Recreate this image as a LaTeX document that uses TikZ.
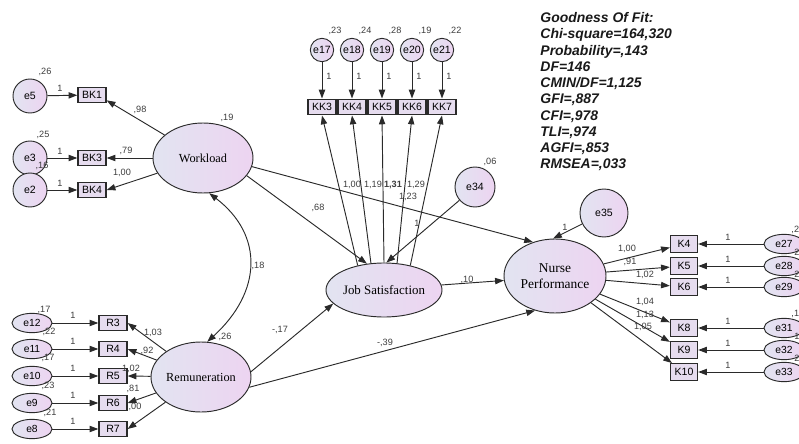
\documentclass[tikz,border=0pt]{standalone}
\usepackage{fontspec}
\setmainfont{Liberation Serif}
\setsansfont{Liberation Sans}
\usetikzlibrary{arrows.meta,shapes.geometric}
\definecolor{ink}{HTML}{2A2A2A}
\definecolor{numink}{HTML}{3C3C3C}
\definecolor{boxfill}{HTML}{E6DCEF}
\definecolor{latleft}{HTML}{E2E4F1}
\definecolor{latright}{HTML}{EDD4F1}

\begin{document}
\begin{tikzpicture}[x=0.03cm,y=-0.03cm,>={Triangle[length=7.5pt,width=5.4pt]},line width=0.8pt,
  link/.style={draw=ink,->},
  cov/.style={draw=ink,<->},
  obs/.style={rectangle,draw=ink,line width=1.1pt,fill=boxfill,minimum width=0.84cm,minimum height=0.47cm,inner sep=0pt,font=\sffamily\fontsize{9}{9}\selectfont},
  err/.style={circle,draw=ink,left color=latleft,right color=latright,inner sep=0pt,font=\sffamily\fontsize{9}{9}\selectfont},
  errov/.style={ellipse,draw=ink,left color=latleft,right color=latright,minimum width=1.2cm,minimum height=0.58cm,inner sep=0pt,font=\sffamily\fontsize{8.8}{8.8}\selectfont},
  lat/.style={ellipse,draw=ink,left color=latleft,right color=latright,inner sep=0pt,align=center,font=\fontsize{10.5}{13.6}\selectfont},
  val/.style={font=\sffamily\fontsize{7.8}{7.8}\selectfont,text=numink,inner sep=0pt}]
\useasboundingbox (0,0) rectangle (799,444);
% workload and its items
\node[lat,minimum width=3cm,minimum height=2.1cm] (wl) at (203,158) {Workload};
\node[obs] (bk1) at (92,95) {BK1};
\node[obs] (bk3) at (92,158) {BK3};
\node[obs] (bk4) at (92,190) {BK4};
\node[err,minimum size=1.02cm] (e5) at (30,96) {e5};
\node[err,minimum size=1.02cm] (e3) at (30,158) {e3};
\node[err,minimum size=1.02cm] (e2) at (30,190) {e2};
\draw[link] (e5) -- (bk1);
\draw[link] (e3) -- (bk3);
\draw[link] (e2) -- (bk4);
\draw[link] (wl) -- (bk1.-20);
\draw[link] (wl.west) -- (bk3.east);
\draw[link] (wl) -- (bk4.east);
\node[val] (ve5) at (45,72) {,26};
\node[val] (ve3) at (43,135) {,25};
\node[val] (ve2) at (42,166) {,16};
\node[val] (o5) at (60,88) {1};
\node[val] (o3) at (60,151) {1};
\node[val] (o2) at (60,183) {1};
\node[val] (lbk1) at (140,110) {,98};
\node[val] (lbk3) at (126,151) {,79};
\node[val] (lbk4) at (122,173) {1,00};
\node[val] (vwl) at (227,118) {,19};
% job satisfaction and its items
\node[lat,minimum width=3.48cm,minimum height=1.62cm,font=\fontsize{11}{11}\selectfont] (js) at (384,290) {Job Satisfaction};
\node[obs] (kk3) at (322,107) {KK3};
\node[obs] (kk4) at (352,107) {KK4};
\node[obs] (kk5) at (382,107) {KK5};
\node[obs] (kk6) at (412,107) {KK6};
\node[obs] (kk7) at (442,107) {KK7};
\node[err,minimum size=0.7cm] (e17) at (322,50) {e17};
\node[err,minimum size=0.7cm] (e18) at (352,50) {e18};
\node[err,minimum size=0.7cm] (e19) at (382,50) {e19};
\node[err,minimum size=0.7cm] (e20) at (412,50) {e20};
\node[err,minimum size=0.7cm] (e21) at (442,50) {e21};
\draw[link] (e17) -- (kk3);
\draw[link] (e18) -- (kk4);
\draw[link] (e19) -- (kk5);
\draw[link] (e20) -- (kk6);
\draw[link] (e21) -- (kk7);
\draw[link] (js.137) -- (kk3.south);
\draw[link] (js.116) -- (kk4.south);
\draw[link] (js.90) -- (kk5.south);
\draw[link] (js.64) -- (kk6.south);
\draw[link] (js.43) -- (kk7.south);
\node[val] (ve17) at (335,31) {,23};
\node[val] (ve18) at (365,31) {,24};
\node[val] (ve19) at (395,31) {,28};
\node[val] (ve20) at (425,31) {,19};
\node[val] (ve21) at (455,31) {,22};
\node[val] (o17) at (329,76) {1};
\node[val] (o18) at (359,76) {1};
\node[val] (o19) at (389,76) {1};
\node[val] (o20) at (419,76) {1};
\node[val] (o21) at (449,76) {1};
\node[val] (lkk3) at (352,185) {1,00};
\node[val] (lkk4) at (373,185) {1,19};
\node[val,font=\sffamily\bfseries\fontsize{7.8}{7.8}\selectfont] (lkk5) at (393,185) {1,31};
\node[val] (lkk6) at (416,185) {1,29};
\node[val] (lkk7) at (408,197) {1,23};
\node[err,minimum size=1.2cm] (e34) at (475,187) {e34};
\draw[link] (e34) -- (js.85);
\node[val] (ve34) at (490,162) {,06};
\node[val] (o34) at (417,223) {1};
% nurse performance and its items
\node[lat,minimum width=3.06cm,minimum height=2.22cm,font=\fontsize{11.5}{14}\selectfont] (np) at (555,276) {Nurse\\Performance};
\node[err,minimum size=1.44cm] (e35) at (604,213) {e35};
\draw[link] (e35) -- (np.93);
\node[val] (o35) at (565,227) {1};
\node[obs,minimum width=0.81cm,minimum height=0.5cm] (k4) at (684,244) {K4};
\node[obs,minimum width=0.81cm,minimum height=0.5cm] (k5) at (684,266) {K5};
\node[obs,minimum width=0.81cm,minimum height=0.5cm] (k6) at (684,287) {K6};
\node[obs,minimum width=0.81cm,minimum height=0.5cm] (k8) at (684,328) {K8};
\node[obs,minimum width=0.81cm,minimum height=0.5cm] (k9) at (684,350) {K9};
\node[obs,minimum width=0.81cm,minimum height=0.5cm] (k10) at (684,372) {K10};
\node[errov] (e27) at (784,244) {e27};
\node[errov] (e28) at (784,266) {e28};
\node[errov] (e29) at (784,287) {e29};
\node[errov] (e31) at (784,328) {e31};
\node[errov] (e32) at (784,350) {e32};
\node[errov] (e33) at (784,372) {e33};
\draw[link] (e27) -- (k4);
\draw[link] (e28) -- (k5);
\draw[link] (e29) -- (k6);
\draw[link] (e31) -- (k8);
\draw[link] (e32) -- (k9);
\draw[link] (e33) -- (k10);
\draw[link] (np) -- (k4);
\draw[link] (np) -- (k5);
\draw[link] (np) -- (k6);
\draw[link] (np) -- (k8);
\draw[link] (np) -- (k9);
\draw[link] (np) -- (k10);
\node[val] (o27) at (728,237) {1};
\node[val] (o28) at (728,259) {1};
\node[val] (o29) at (728,280) {1};
\node[val] (o31) at (728,321) {1};
\node[val] (o32) at (728,343) {1};
\node[val] (o33) at (728,365) {1};
\node[val] (lk4) at (627,249) {1,00};
\node[val] (lk5) at (630,262) {,91};
\node[val] (lk6) at (645,275) {1,02};
\node[val] (lk8) at (645,302) {1,04};
\node[val] (lk9) at (645,315) {1,13};
\node[val] (lk10) at (643,327) {1,05};
\node[val,anchor=west] (ve27) at (791,230) {,2};
\node[val,anchor=west] (ve28) at (794,252) {2};
\node[val,anchor=west] (ve29) at (794,274) {2};
\node[val,anchor=west] (ve31) at (791,314) {,1};
\node[val,anchor=west] (ve32) at (794,336) {1};
\node[val,anchor=west] (ve33) at (794,358) {2};
% remuneration and its items
\node[lat,minimum width=3cm,minimum height=2.1cm] (rem) at (201,377) {Remuneration};
\node[obs,minimum height=0.45cm] (r3) at (113,323) {R3};
\node[obs,minimum height=0.45cm] (r4) at (113,349) {R4};
\node[obs,minimum height=0.45cm] (r5) at (113,376) {R5};
\node[obs,minimum height=0.45cm] (r6) at (113,403) {R6};
\node[obs,minimum height=0.45cm] (r7) at (113,429) {R7};
\node[errov] (e12) at (32,323) {e12};
\node[errov] (e11) at (32,349) {e11};
\node[errov] (e10) at (32,376) {e10};
\node[errov] (e9) at (32,403) {e9};
\node[errov] (e8) at (32,429) {e8};
\draw[link] (e12) -- (r3);
\draw[link] (e11) -- (r4);
\draw[link] (e10) -- (r5);
\draw[link] (e9) -- (r6);
\draw[link] (e8) -- (r7);
\draw[link] (rem) -- (r3.east);
\draw[link] (rem) -- (r4.east);
\draw[link] (rem) -- (r5.east);
\draw[link] (rem) -- (r6.east);
\draw[link] (rem) -- (r7.east);
\node[val] (ve12) at (44,310) {,17};
\node[val] (ve11) at (49,332) {,22};
\node[val] (ve10) at (48,358) {,17};
\node[val] (ve9) at (48,386) {,23};
\node[val] (ve8) at (50,413) {,21};
\node[val] (o12) at (73,315) {1};
\node[val] (o11) at (73,341) {1};
\node[val] (o10) at (73,368) {1};
\node[val] (o9) at (73,395) {1};
\node[val] (o8) at (73,421) {1};
\node[val] (lr3) at (153,333) {1,03};
\node[val] (lr4) at (147,351) {,92};
\node[val] (lr5) at (131,369) {1,02};
\node[val] (lr6) at (133,389) {,81};
\node[val] (lr7) at (135,407) {,00};
\node[val] (vrem) at (225,337) {,26};
% structural paths
\draw[cov] (wl.-80) .. controls (264,235) and (262,292) .. (rem.80);
\node[val] (cwr) at (258,266) {,18};
\draw[link] (wl.-22) -- (js.123);
\node[val] (pwj) at (318,208) {,68};
\draw[link] (wl.-10) -- (np.123);
\draw[link] (rem.6) -- (js.195);
\node[val] (prj) at (280,330) {-,17};
\draw[link] (rem.-12) -- (np.-120);
\node[val] (prn) at (385,343) {-,39};
\draw[link] (js.5) -- (np.185);
\node[val] (pjn) at (467,280) {,10};
% fit indices
\node[anchor=north west,align=left,inner sep=0pt,font=\sffamily\bfseries\itshape\fontsize{11.9}{13.86}\selectfont,text=black!90] (fit) at (540,12) {Goodness Of Fit:\\Chi-square=164,320\\Probability=,143\\DF=146\\CMIN/DF=1,125\\GFI=,887\\CFI=,978\\TLI=,974\\AGFI=,853\\RMSEA=,033};
\end{tikzpicture}
\end{document}
